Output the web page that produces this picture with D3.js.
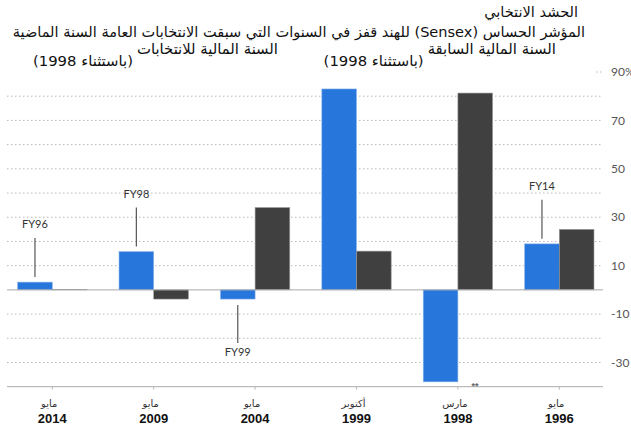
<!DOCTYPE html>
<html>
<head>
<meta charset="utf-8">
<script src="https://cdn.jsdelivr.net/npm/d3@7"></script>
<style>
  body { margin: 0; background: #fff; }
  svg { display: block; }
</style>
</head>
<body>
<div id="chart"></div>
<script>
// categories left to right (month + year of the election)
const years = ["2014", "2009", "2004", "1999", "1998", "1996"];
const months = ["مايو", "مايو", "مايو", "أكتوبر", "مارس", "مايو"];
const series = ["election", "previous"];

// % change of the Sensex
const electionFY = [3.2, 15.8, -3.8, 83, -38, 19];
const previousFY = [0.2, -3.8, 34, 16, 81.3, 25];

const yTicks = [90, 70, 50, 30, 10, -10, -30];
const gridValues = [80, 70, 60, 50, 40, 30, 20, 10, -10, -20, -30];

// FY callouts on the blue bars
const callouts = [
  { year: "2014", label: "FY96" },
  { year: "2009", label: "FY98" },
  { year: "2004", label: "FY99" },
  { year: "1996", label: "FY14" }
];

const titleLines = [
  "الحشد الانتخابي",
  "المؤشر الحساس (Sensex) للهند قفز في السنوات التي سبقت الانتخابات العامة السنة الماضية"
];
const legendLabels = ["السنة المالية للانتخابات", "السنة المالية السابقة"];
const legendNote = "(باستثناء 1998)";

const width = 631, height = 427;
const colors = { election: "#2676db", previous: "#404040" };
const strokes = { election: "#8fb6ea", previous: "#999999" };

const svg = d3.select("#chart").append("svg")
  .attr("width", width)
  .attr("height", height);

const x = d3.scaleBand()
  .domain(years)
  .range([1.6, 610])
  .paddingInner(0.316)
  .paddingOuter(0.158);

const xs = d3.scaleBand()
  .domain(series)
  .range([0, x.bandwidth()]);

const y = d3.scaleLinear()
  .domain([-40, 90])
  .range([386.7, 72]);

const left = 7, right = 603;

// dotted grid
svg.append("g")
  .selectAll("line")
  .data(gridValues)
  .join("line")
  .attr("x1", left).attr("x2", right)
  .attr("y1", d => y(d)).attr("y2", d => y(d))
  .attr("stroke", "#b8b8b8")
  .attr("stroke-width", 1)
  .attr("stroke-dasharray", "1.5,2.5");

// short dotted stub next to the top label
svg.append("line")
  .attr("x1", right - 7).attr("x2", right)
  .attr("y1", y(90)).attr("y2", y(90))
  .attr("stroke", "#b8b8b8")
  .attr("stroke-dasharray", "1.5,2.5");

// y labels on the right
svg.append("g")
  .selectAll("text")
  .data(yTicks)
  .join("text")
  .attr("x", right + 8)
  .attr("y", d => y(d))
  .attr("dy", "0.35em")
  .attr("font-family", "Lato, 'DejaVu Sans', sans-serif")
  .attr("font-size", 12)
  .attr("fill", "#555")
  .text(d => d === 90 ? d + "%" : d);

// bars
const rows = years.map((yr, i) => ({ year: yr, election: electionFY[i], previous: previousFY[i] }));

svg.append("g")
  .selectAll("g")
  .data(rows)
  .join("g")
  .attr("transform", d => `translate(${x(d.year)},0)`)
  .selectAll("rect")
  .data(d => series.map(s => ({ key: s, value: d[s] })))
  .join("rect")
  .attr("x", d => xs(d.key))
  .attr("width", xs.bandwidth())
  .attr("y", d => y(Math.max(0, d.value)))
  .attr("height", d => Math.abs(y(d.value) - y(0)))
  .attr("fill", d => colors[d.key])
  .attr("stroke", d => strokes[d.key])
  .attr("stroke-width", 0.6);

// zero line
svg.append("line")
  .attr("x1", left).attr("x2", right)
  .attr("y1", y(0)).attr("y2", y(0))
  .attr("stroke", "#aaa")
  .attr("stroke-width", 1);

// bottom axis
const xAxis = svg.append("g")
  .attr("transform", `translate(0,${y(-40)})`);
xAxis.append("line")
  .attr("x1", left).attr("x2", right)
  .attr("stroke", "#aaa");
xAxis.selectAll(".tick")
  .data(years)
  .join("line")
  .attr("class", "tick")
  .attr("x1", d => x(d) + x.bandwidth() / 2)
  .attr("x2", d => x(d) + x.bandwidth() / 2)
  .attr("y1", 0).attr("y2", 3)
  .attr("stroke", "#bbb");

xAxis.selectAll(".month")
  .data(years)
  .join("text")
  .attr("class", "month")
  .attr("x", d => x(d) + x.bandwidth() / 2 - 3)
  .attr("y", 20)
  .attr("text-anchor", "middle")
  .attr("font-family", "'DejaVu Sans', sans-serif")
  .attr("font-size", 10)
  .attr("fill", "#333")
  .text((d, i) => months[i]);

xAxis.selectAll(".year")
  .data(years)
  .join("text")
  .attr("class", "year")
  .attr("x", d => x(d) + x.bandwidth() / 2)
  .attr("y", 36)
  .attr("text-anchor", "middle")
  .attr("font-family", "'Liberation Sans', Arial, sans-serif")
  .attr("font-weight", "bold")
  .attr("font-size", 13)
  .attr("fill", "#111")
  .text(d => d);

// "**" mark under the 1998 bars
svg.append("text")
  .attr("x", x("1998") + xs("previous") + 17)
  .attr("y", y(-40) + 2)
  .attr("text-anchor", "middle")
  .attr("font-family", "'Liberation Sans', sans-serif")
  .attr("font-size", 9)
  .attr("font-weight", "bold")
  .attr("fill", "#666")
  .text("**");

// callouts
const co = svg.append("g");
callouts.forEach(c => {
  const v = electionFY[years.indexOf(c.year)];
  const cx = x(c.year) + xs("election") + xs.bandwidth() / 2;
  const up = v >= 0;
  const y0 = up ? y(v) - 5 : y(v) + 6;
  const y1 = up ? y0 - 39 : y0 + 38;
  co.append("line")
    .attr("x1", cx).attr("x2", cx)
    .attr("y1", y0).attr("y2", y1)
    .attr("stroke", "#555")
    .attr("stroke-width", 1.2);
  co.append("text")
    .attr("x", cx)
    .attr("y", up ? y1 - 13.5 : y1 + 9)
    .attr("dy", "0.35em")
    .attr("text-anchor", "middle")
    .attr("font-family", "Lato, sans-serif")
    .attr("font-size", 11)
    .attr("fill", "#333")
    .text(c.label);
});

// title block (Arabic, right to left)
const arabic = "'DejaVu Sans', 'Liberation Sans', sans-serif";
function rtlText(str, xr, yc, size) {
  return svg.append("text")
    .attr("x", xr)
    .attr("y", yc)
    .attr("dy", "0.35em")
    .attr("direction", "rtl")
    .attr("unicode-bidi", "embed")
    .attr("text-anchor", "start")
    .attr("font-family", arabic)
    .attr("font-size", size)
    .attr("fill", "#111")
    .text(str);
}
// shrink a text until it fits the width it has in the original
function fit(sel, target) {
  const w = sel.node().getComputedTextLength();
  const s = +sel.attr("font-size");
  sel.attr("font-size", Math.min(16, s * target / w));
  return sel;
}

const line2 = fit(rtlText(titleLines[1], 585, 32, 15), 573);
rtlText(titleLines[0], 578, 12, +line2.attr("font-size"));

// legend labels: words first, the note a bit lower to the left
const probe = rtlText(legendLabels[0] + " " + legendNote, 0, -50, 15);
fit(probe, 246);
const legendSize = +probe.attr("font-size");
probe.remove();

[[278, legendLabels[0]], [556, legendLabels[1]]].forEach(([xr, label]) => {
  const a = rtlText(label, xr, 49, legendSize);
  const wa = a.node().getComputedTextLength();
  rtlText(legendNote, xr - wa - 4, 61, legendSize);
});
</script>
</body>
</html>
